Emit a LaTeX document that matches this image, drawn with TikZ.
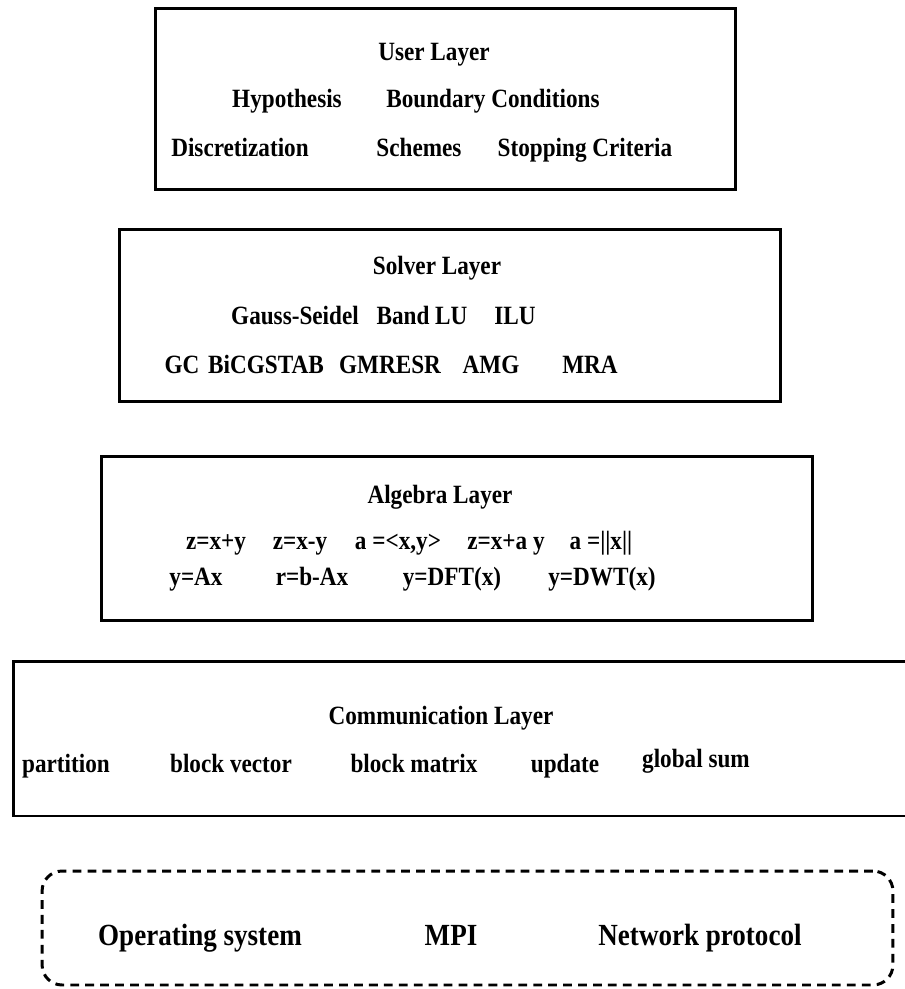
\documentclass[tikz,border=0pt]{standalone}
\usepackage{fontspec}
\setmainfont{Liberation Serif}[FakeStretch=0.88]
\begin{document}
\begin{tikzpicture}[x=0.02cm, y=-0.02cm,
    every node/.style={font=\fontsize{15}{17}\selectfont\bfseries},
    layer/.style={draw=black, line width=1.7pt, inner sep=0pt},
    base/.style={draw=black, line width=1.7pt, inner sep=0pt, dashed,
        dash pattern=on 5pt off 3.5pt, rounded corners=0.4cm},
    item/.style={anchor=base, inner sep=0pt},
    sysitem/.style={item, font=\fontsize{17.5}{19}\selectfont\bfseries}]
    \useasboundingbox (0,0) rectangle (904,989);
    % layer frames
    \node[layer, minimum width=11.62cm, minimum height=3.64cm] at (445.5,99) (user) {};
    \node[layer, minimum width=13.24cm, minimum height=3.46cm] at (450,315.5) (solver) {};
    \node[layer, minimum width=14.24cm, minimum height=3.30cm] at (457,538.5) (algebra) {};
    \node[layer, minimum width=17.98cm, minimum height=3.10cm] at (462.5,738.5) (comm) {};
    \node[base, minimum width=17.02cm, minimum height=2.28cm] at (467.5,928) (sys) {};
    % user layer
    \node[item] at (434,61) (userT) {User Layer};
    \node[item] at (287,108) (hyp) {Hypothesis};
    \node[item] at (493,108) (bc) {Boundary Conditions};
    \node[item] at (240,157) (disc) {Discretization};
    \node[item] at (419,157) (schemes) {Schemes};
    \node[item] at (585,157) (stop) {Stopping Criteria};
    % solver layer
    \node[item] at (437,275) (solverT) {Solver Layer};
    \node[item] at (295,325) (gs) {Gauss-Seidel};
    \node[item] at (422,325) (blu) {Band LU};
    \node[item] at (515,325) (ilu) {ILU};
    \node[item] at (182,373) (gc) {GC};
    \node[item] at (266,373) (bicg) {BiCGSTAB};
    \node[item] at (390,373) (gmres) {GMRESR};
    \node[item] at (491,373) (amg) {AMG};
    \node[item] at (590,373) (mra) {MRA};
    % algebra layer
    \node[item] at (440,503) (algT) {Algebra Layer};
    \node[item] at (216,549) (add) {z=x+y};
    \node[item] at (300,549) (sub) {z=x-y};
    \node[item] at (398,549) (dot) {a =<x,y>};
    \node[item] at (506,549) (axpy) {z=x+a y};
    \node[item] at (601,549) (norm) {a =||x||};
    \node[item] at (196,585) (mv) {y=Ax};
    \node[item] at (312,585) (res) {r=b-Ax};
    \node[item] at (452,585) (dft) {y=DFT(x)};
    \node[item] at (602,585) (dwt) {y=DWT(x)};
    % communication layer
    \node[item] at (441,724) (commT) {Communication Layer};
    \node[item] at (66,772) (part) {partition};
    \node[item] at (231,772) (bvec) {block vector};
    \node[item] at (414,772) (bmat) {block matrix};
    \node[item] at (565,772) (upd) {update};
    \node[item] at (696,767) (gsum) {global sum};
    % system level
    \node[sysitem] at (200,945) (os) {Operating system};
    \node[sysitem] at (451,945) (mpi) {MPI};
    \node[sysitem] at (700,945) (net) {Network protocol};
\end{tikzpicture}
\end{document}
